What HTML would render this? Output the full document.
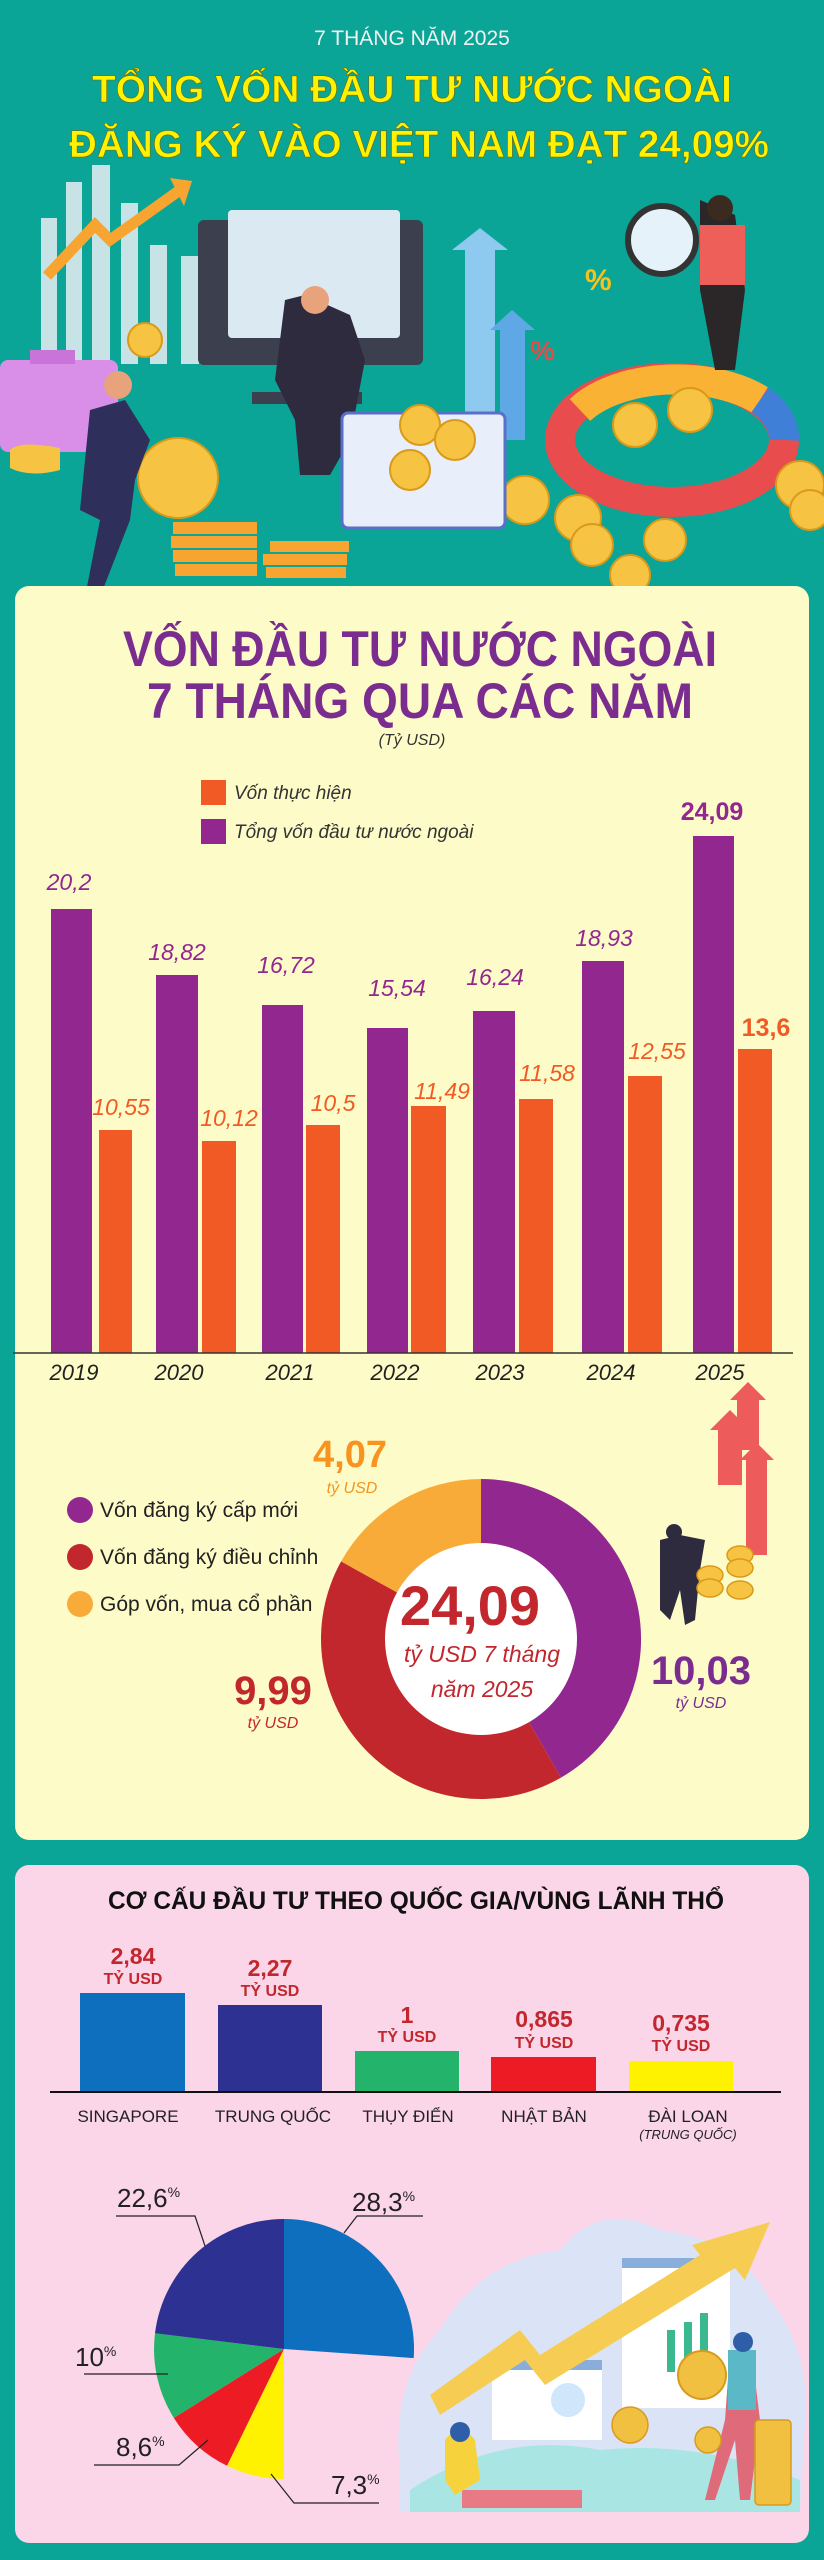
<!DOCTYPE html>
<html><head><meta charset="utf-8"><style>
html,body{margin:0;padding:0;background:#0aa597;}
svg{display:block}
text{font-family:"Liberation Sans",sans-serif}
</style></head><body>
<svg width="824" height="2560" viewBox="0 0 824 2560" xmlns="http://www.w3.org/2000/svg">
<rect width="824" height="2560" fill="#0aa597"/>

<!-- HEADER -->
<text x="412" y="45" text-anchor="middle" font-size="21" fill="#f2f2f2">7 THÁNG NĂM 2025</text>
<g font-weight="bold" font-size="38" text-anchor="middle" fill="#fff200" stroke="#6b6a10" stroke-width="0.6">
<text x="412" y="102" textLength="640" lengthAdjust="spacingAndGlyphs">TỔNG VỐN ĐẦU TƯ NƯỚC NGOÀI</text>
<text x="419" y="157" textLength="700" lengthAdjust="spacingAndGlyphs">ĐĂNG KÝ VÀO VIỆT NAM ĐẠT 24,09%</text>
</g>

<!-- header illustration -->
<g fill="#c8e3e6">
<rect x="41" y="218" width="16" height="146"/><rect x="66" y="182" width="16" height="182"/>
<rect x="92" y="165" width="18" height="199"/><rect x="121" y="203" width="17" height="161"/>
<rect x="150" y="245" width="17" height="119"/><rect x="181" y="256" width="18" height="108"/>
</g>
<polyline points="47,276 95,225 110,240 180,190" fill="none" stroke="#f7a530" stroke-width="11"/>
<polygon points="170,178 192,181 184,206" fill="#f7a530"/>
<rect x="0" y="360" width="118" height="92" rx="8" fill="#d98ee8"/>
<rect x="30" y="350" width="45" height="14" fill="#c874d8"/>
<rect x="198" y="220" width="225" height="145" rx="6" fill="#3b3f4e"/>
<rect x="228" y="210" width="172" height="128" rx="4" fill="#dbe9f3"/>
<rect x="252" y="392" width="110" height="12" fill="#3b3f4e"/>
<path d="M285,300 L305,295 L350,315 L365,360 L350,440 L330,475 L300,475 L295,420 L275,380 Z" fill="#2e2b3e"/>
<circle cx="315" cy="300" r="14" fill="#e8a27c"/>
<path d="M452,250 L480,228 L508,250 L495,250 L495,430 L465,430 L465,250 Z" fill="#8ec9ef"/>
<path d="M490,330 L512,310 L535,330 L525,330 L525,440 L500,440 L500,330 Z" fill="#5fa8e6"/>
<text x="585" y="290" font-size="30" fill="#f9c21b" font-weight="bold">%</text>
<text x="530" y="360" font-size="28" fill="#e84a4a" font-weight="bold">%</text>
<ellipse cx="672" cy="440" rx="112" ry="62" fill="none" stroke="#e84c4c" stroke-width="30"/>
<path d="M580,410 A112,62 0 0 1 760,400" fill="none" stroke="#f9b233" stroke-width="30"/>
<path d="M760,400 A112,62 0 0 1 784,440" fill="none" stroke="#3f7fd8" stroke-width="30"/>
<path d="M700,200 L735,215 L745,290 L735,370 L715,370 L700,290 Z" fill="#2b2628"/>
<rect x="700" y="225" width="45" height="60" fill="#ef5f59"/>
<circle cx="720" cy="208" r="13" fill="#3a2a20"/>
<circle cx="662" cy="240" r="34" fill="#e6f2fa" stroke="#333" stroke-width="6"/>
<g fill="#f6c342" stroke="#d99a1a" stroke-width="2">
<circle cx="635" cy="425" r="22"/><circle cx="690" cy="410" r="22"/>
<circle cx="525" cy="500" r="24"/><circle cx="578" cy="518" r="23"/><circle cx="592" cy="545" r="21"/>
<circle cx="665" cy="540" r="21"/><circle cx="630" cy="575" r="20"/><circle cx="800" cy="485" r="24"/>
<circle cx="810" cy="510" r="20"/><circle cx="145" cy="340" r="17"/>
<circle cx="178" cy="478" r="40"/>
</g>
<rect x="342" y="413" width="163" height="115" rx="6" fill="#e9eefb" stroke="#5a6fc7" stroke-width="3"/>
<g fill="#f6c342" stroke="#d99a1a" stroke-width="2">
<circle cx="420" cy="425" r="20"/><circle cx="455" cy="440" r="20"/><circle cx="410" cy="470" r="20"/>
</g>
<g fill="#f7a530"><rect x="173" y="522" width="84" height="12"/><rect x="171" y="536" width="86" height="12"/>
<rect x="173" y="550" width="84" height="12"/><rect x="175" y="564" width="82" height="12"/>
<rect x="270" y="541" width="79" height="11"/><rect x="263" y="554" width="84" height="11"/><rect x="266" y="567" width="80" height="11"/></g>
<path d="M90,410 L125,400 L150,440 L135,480 L130,520 L100,597 L85,597 L100,520 L80,510 Z" fill="#2f2f5c"/>
<circle cx="118" cy="385" r="14" fill="#e8a27c"/>
<path d="M10,450 Q20,440 60,448 L60,470 Q30,478 10,468 Z" fill="#f6c342"/>

<!-- CARD 1 -->
<rect x="15" y="586" width="794" height="1254" rx="14" fill="#fdfcc9"/>
<g font-weight="bold" fill="#7a2d8f" font-size="50" text-anchor="middle">
<text x="420" y="666" textLength="594" lengthAdjust="spacingAndGlyphs">VỐN ĐẦU TƯ NƯỚC NGOÀI</text>
<text x="420" y="718" textLength="546" lengthAdjust="spacingAndGlyphs">7 THÁNG QUA CÁC NĂM</text>
</g>
<text x="412" y="745" text-anchor="middle" font-size="16" font-style="italic" fill="#333">(Tỷ USD)</text>
<rect x="201" y="780" width="25" height="25" fill="#f15a24"/>
<rect x="201" y="819" width="25" height="25" fill="#92278f"/>
<g font-size="19" font-style="italic" fill="#333">
<text x="234" y="799">Vốn thực hiện</text>
<text x="234" y="838">Tổng vốn đầu tư nước ngoài</text>
</g>
<g fill="#92278f">
<rect x="51" y="909" width="41" height="444"/>
<rect x="156" y="975" width="42" height="378"/>
<rect x="262" y="1005" width="41" height="348"/>
<rect x="367" y="1028" width="41" height="325"/>
<rect x="473" y="1011" width="42" height="342"/>
<rect x="582" y="961" width="42" height="392"/>
<rect x="693" y="836" width="41" height="517"/>
</g>
<g fill="#f15a24">
<rect x="99" y="1130" width="33" height="223"/>
<rect x="202" y="1141" width="34" height="212"/>
<rect x="306" y="1125" width="34" height="228"/>
<rect x="411" y="1106" width="35" height="247"/>
<rect x="519" y="1099" width="34" height="254"/>
<rect x="628" y="1076" width="34" height="277"/>
<rect x="738" y="1049" width="34" height="304"/>
</g>
<line x1="13" y1="1353" x2="793" y2="1353" stroke="#333" stroke-width="1.5"/>
<g font-size="23" font-style="italic" text-anchor="middle" fill="#92278f">
<text x="69" y="890">20,2</text><text x="177" y="960">18,82</text><text x="286" y="973">16,72</text>
<text x="397" y="996">15,54</text><text x="495" y="985">16,24</text><text x="604" y="946">18,93</text>
<text x="712" y="820" font-weight="bold" font-style="normal" font-size="25">24,09</text>
</g>
<g font-size="23" font-style="italic" text-anchor="middle" fill="#f15a24">
<text x="121" y="1115">10,55</text><text x="229" y="1126">10,12</text><text x="333" y="1111">10,5</text>
<text x="442" y="1099">11,49</text><text x="547" y="1081">11,58</text><text x="657" y="1059">12,55</text>
<text x="766" y="1036" font-weight="bold" font-style="normal" font-size="25">13,6</text>
</g>
<g font-size="22" font-style="italic" text-anchor="middle" fill="#222">
<text x="74" y="1380">2019</text><text x="179" y="1380">2020</text><text x="290" y="1380">2021</text>
<text x="395" y="1380">2022</text><text x="500" y="1380">2023</text><text x="611" y="1380">2024</text><text x="720" y="1380">2025</text>
</g>

<!-- donut -->
<path d="M481,1479 A160,160 0 0 1 561,1777.6 L481,1639 Z" fill="#92278f"/>
<path d="M561,1777.6 A160,160 0 0 1 341.1,1561.4 L481,1639 Z" fill="#c1272d"/>
<path d="M341.1,1561.4 A160,160 0 0 1 481,1479 L481,1639 Z" fill="#f9ab3a"/>
<circle cx="481" cy="1639" r="96" fill="#fff"/>
<text x="470" y="1625" text-anchor="middle" font-size="56" font-weight="bold" fill="#c1272d">24,09</text>
<text x="482" y="1662" text-anchor="middle" font-size="23" font-style="italic" fill="#c1272d">tỷ USD 7 tháng</text>
<text x="482" y="1697" text-anchor="middle" font-size="23" font-style="italic" fill="#c1272d">năm 2025</text>
<text x="350" y="1467" text-anchor="middle" font-size="38" font-weight="bold" fill="#f7931e">4,07</text>
<text x="352" y="1493" text-anchor="middle" font-size="16" font-style="italic" fill="#f7931e">tỷ USD</text>
<text x="273" y="1704" text-anchor="middle" font-size="40" font-weight="bold" fill="#c1272d">9,99</text>
<text x="273" y="1728" text-anchor="middle" font-size="16" font-style="italic" fill="#c1272d">tỷ USD</text>
<text x="701" y="1684" text-anchor="middle" font-size="40" font-weight="bold" fill="#7a2d8f">10,03</text>
<text x="701" y="1708" text-anchor="middle" font-size="16" font-style="italic" fill="#7a2d8f">tỷ USD</text>
<circle cx="80" cy="1510" r="13" fill="#92278f"/>
<circle cx="80" cy="1557" r="13" fill="#c1272d"/>
<circle cx="80" cy="1604" r="13" fill="#f9ab3a"/>
<g font-size="21" fill="#222">
<text x="100" y="1517">Vốn đăng ký cấp mới</text>
<text x="100" y="1564">Vốn đăng ký điều chỉnh</text>
<text x="100" y="1611">Góp vốn, mua cổ phần</text>
</g>
<!-- small illustration -->
<g fill="#ee5b5b">
<path d="M710,1430 L730,1410 L750,1430 L742,1430 L742,1485 L718,1485 L718,1430 Z"/>
<path d="M730,1400 L748,1382 L766,1400 L759,1400 L759,1450 L737,1450 L737,1400 Z"/>
<path d="M740,1460 L757,1443 L774,1460 L767,1460 L767,1555 L746,1555 L746,1460 Z"/>
</g>
<path d="M660,1540 L680,1535 L705,1540 L700,1570 L695,1620 L685,1625 L680,1590 L670,1620 L660,1610 Z" fill="#2e2b3e"/>
<circle cx="674" cy="1532" r="8" fill="#2e2b3e"/>
<g fill="#f6c342" stroke="#d99a1a" stroke-width="1.5">
<ellipse cx="710" cy="1575" rx="13" ry="9"/><ellipse cx="710" cy="1588" rx="13" ry="9"/>
<ellipse cx="740" cy="1555" rx="13" ry="9"/><ellipse cx="740" cy="1568" rx="13" ry="9"/><ellipse cx="740" cy="1590" rx="13" ry="9"/>
</g>

<!-- CARD 2 -->
<rect x="15" y="1865" width="794" height="678" rx="14" fill="#fbd5e8"/>
<text x="416" y="1909" text-anchor="middle" font-size="25" font-weight="bold" fill="#111" textLength="616" lengthAdjust="spacingAndGlyphs">CƠ CẤU ĐẦU TƯ THEO QUỐC GIA/VÙNG LÃNH THỔ</text>
<rect x="80" y="1993" width="105" height="98" fill="#0f6fbf"/>
<rect x="218" y="2005" width="104" height="86" fill="#2d3192"/>
<rect x="355" y="2051" width="104" height="40" fill="#24b36b"/>
<rect x="491" y="2057" width="105" height="34" fill="#ed1c24"/>
<rect x="629" y="2061" width="104" height="30" fill="#fff200"/>
<line x1="50" y1="2092" x2="781" y2="2092" stroke="#111" stroke-width="2"/>
<g font-weight="bold" fill="#c1272d" text-anchor="middle">
<g font-size="23"><text x="133" y="1964">2,84</text><text x="270" y="1976">2,27</text><text x="407" y="2023">1</text><text x="544" y="2027">0,865</text><text x="681" y="2031">0,735</text></g>
<g font-size="16"><text x="133" y="1984">TỶ USD</text><text x="270" y="1996">TỶ USD</text><text x="407" y="2042">TỶ USD</text><text x="544" y="2048">TỶ USD</text><text x="681" y="2051">TỶ USD</text></g>
</g>
<g font-size="17" fill="#222" text-anchor="middle">
<text x="128" y="2122">SINGAPORE</text><text x="273" y="2122">TRUNG QUỐC</text><text x="408" y="2122">THỤY ĐIỂN</text>
<text x="544" y="2122">NHẬT BẢN</text><text x="688" y="2122">ĐÀI LOAN</text>
<text x="688" y="2139" font-size="13" font-style="italic">(TRUNG QUỐC)</text>
</g>

<!-- illustration right -->
<path d="M400,2470 Q390,2380 440,2330 Q480,2260 560,2250 Q600,2200 660,2230 Q740,2240 770,2300 Q810,2350 805,2420 L800,2512 L400,2512 Z" fill="#dbe3f7"/>
<path d="M410,2490 Q500,2430 600,2450 Q700,2440 800,2480 L800,2512 L410,2512 Z" fill="#a9e6e3"/>
<rect x="622" y="2258" width="108" height="150" fill="#fff"/>
<rect x="622" y="2258" width="108" height="10" fill="#8aaedb"/>
<g fill="#3ab88f"><rect x="667" y="2330" width="8" height="42"/><rect x="684" y="2322" width="8" height="50"/><rect x="700" y="2313" width="8" height="59"/></g>
<rect x="492" y="2360" width="110" height="80" fill="#fff"/>
<rect x="492" y="2360" width="110" height="10" fill="#8aaedb"/>
<circle cx="568" cy="2400" r="17" fill="#cfe6fb"/>
<polygon points="430,2395 520,2330 540,2355 700,2255 692,2245 770,2222 745,2280 735,2268 545,2385 525,2360 440,2415" fill="#f6cd52"/>
<circle cx="702" cy="2375" r="24" fill="#f1c040" stroke="#d79b1d" stroke-width="2"/>
<path d="M730,2350 L752,2355 L760,2420 L750,2500 L740,2500 L735,2440 L715,2500 L705,2500 L725,2420 Z" fill="#df6b7a"/>
<rect x="728" y="2350" width="28" height="60" fill="#5bb9c7"/>
<circle cx="743" cy="2342" r="10" fill="#2f5ea8"/>
<g fill="#f1c040" stroke="#d79b1d" stroke-width="1.5">
<rect x="755" y="2420" width="36" height="85" rx="4"/>
<circle cx="630" cy="2425" r="18"/><circle cx="708" cy="2440" r="13"/>
</g>
<rect x="462" y="2490" width="120" height="18" fill="#e77a84"/>
<path d="M445,2440 Q460,2420 475,2440 L480,2480 L455,2495 L445,2480 Z" fill="#f6d33c"/>
<circle cx="460" cy="2432" r="10" fill="#2f5ea8"/>

<!-- pie -->
<path d="M284,2219 A130,130 0 0 1 413.7,2358.1 L284,2349 Z" fill="#0f6fbf"/>
<path d="M284,2479 A130,130 0 0 1 227,2465.8 L284,2349 Z" fill="#fff200"/>
<path d="M227,2465.8 A130,130 0 0 1 173.8,2417.9 L284,2349 Z" fill="#ed1c24"/>
<path d="M173.8,2417.9 A130,130 0 0 1 155,2333.2 L284,2349 Z" fill="#24b36b"/>
<path d="M155,2333.2 A130,130 0 0 1 284,2219 L284,2349 Z" fill="#2d3192"/>
<g fill="none" stroke="#222" stroke-width="1.2">
<polyline points="344,2233 357,2216 423,2216"/>
<polyline points="116,2216 195,2216 205,2246"/>
<polyline points="84,2374 168,2374"/>
<polyline points="94,2465 179,2465 208,2440"/>
<polyline points="271,2474 294,2503 379,2503"/>
</g>
<g font-size="26" fill="#222">
<text x="352" y="2211">28,3<tspan font-size="14" dy="-10">%</tspan></text>
<text x="117" y="2207">22,6<tspan font-size="14" dy="-10">%</tspan></text>
<text x="75" y="2366">10<tspan font-size="14" dy="-10">%</tspan></text>
<text x="116" y="2456">8,6<tspan font-size="14" dy="-10">%</tspan></text>
<text x="331" y="2494">7,3<tspan font-size="14" dy="-10">%</tspan></text>
</g>
</svg>
</body></html>
